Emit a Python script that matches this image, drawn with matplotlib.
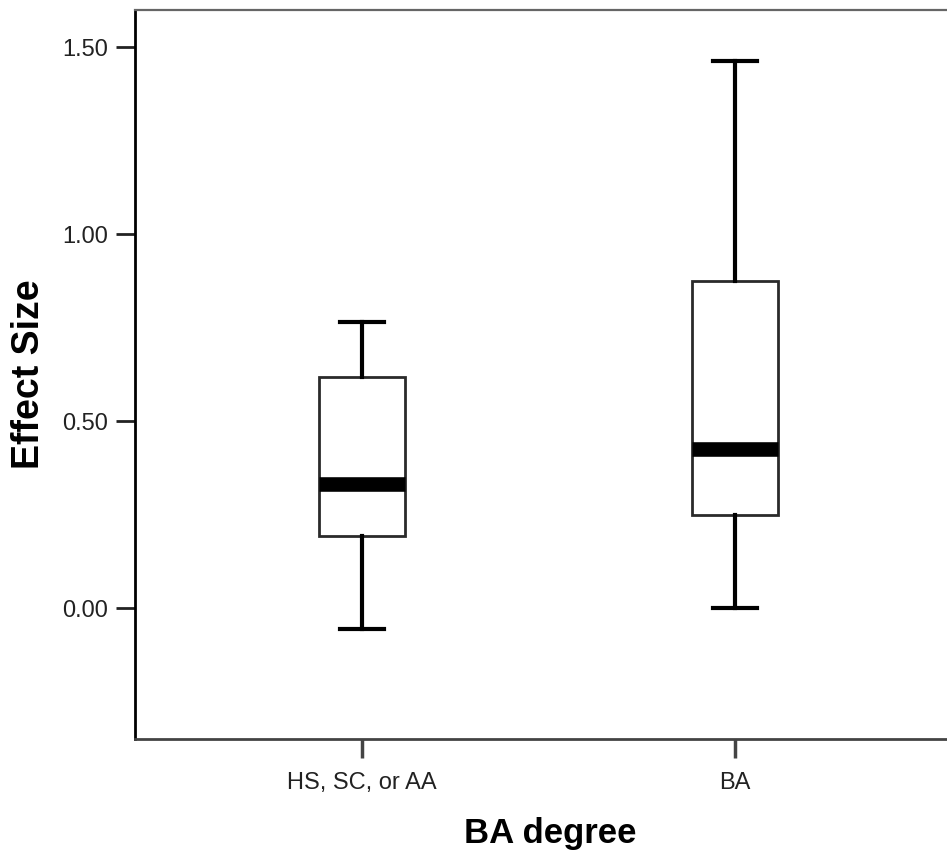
import matplotlib
matplotlib.use("Agg")
import matplotlib.pyplot as plt

plt.rcParams['font.family'] = ['Liberation Sans', 'DejaVu Sans']

categories = ["HS, SC, or AA", "BA"]
whisker_low = [-0.055, 0.0]
q1 = [0.193, 0.249]
median = [0.332, 0.425]
q3 = [0.618, 0.874]
whisker_high = [0.765, 1.463]
yticks = [0.0, 0.5, 1.0, 1.5]
ytick_labels = ["0.00", "0.50", "1.00", "1.50"]

fig = plt.figure(figsize=(9.47, 8.56), dpi=100)
W, H = 947, 856
left_px, top_px, bottom_px = 135, 10, 739
axw_px = 827
ax = fig.add_axes([left_px / W, 1 - bottom_px / H, axw_px / W, (bottom_px - top_px) / H])

stats = []
for i, c in enumerate(categories):
    stats.append(dict(label=c, whislo=whisker_low[i], q1=q1[i], med=median[i],
                      q3=q3[i], whishi=whisker_high[i], fliers=[]))

ax.bxp(stats, positions=[0, 1], widths=0.23, showfliers=False,
       patch_artist=True, capwidths=0.118,
       boxprops=dict(facecolor='white', edgecolor='#2a2a2a', linewidth=2.0),
       whiskerprops=dict(color='black', linewidth=3.0),
       capprops=dict(color='black', linewidth=3.0),
       medianprops=dict(color='black', linewidth=10.5, solid_capstyle='butt'))

ax.set_xlim(-0.6086, 1.6086)
ax.set_ylim(-0.350, 1.599)
ax.set_yticks(yticks)
ax.set_yticklabels(ytick_labels)
ax.set_xticks([0, 1])
ax.set_xticklabels(categories)

ax.tick_params(axis='y', length=13.5, width=2, color='#222222', labelsize=17, pad=6, direction='out')
ax.tick_params(axis='x', length=13.5, width=2.5, color='#444444', labelsize=17, pad=10, direction='out')
for t in ax.get_xticklabels() + ax.get_yticklabels():
    t.set_color('#222222')

ax.spines['left'].set_color('black')
ax.spines['left'].set_linewidth(2)
for s in ['bottom', 'right']:
    ax.spines[s].set_color('#444444')
    ax.spines[s].set_linewidth(2)
ax.spines['top'].set_color('#666666')
ax.spines['top'].set_linewidth(1.6)

ax.set_ylabel("Effect Size", fontsize=27, fontweight='bold', labelpad=14)
ax.set_xlabel("BA degree", fontsize=25, fontweight='bold', labelpad=12)
ax.xaxis.set_label_coords((550 - left_px) / axw_px, -(833 - bottom_px) / (bottom_px - top_px))
ax.xaxis.label.set_va('center')
ax.yaxis.set_label_coords(-(left_px - 29) / axw_px, (bottom_px - 374) / (bottom_px - top_px))
ax.yaxis.label.set_va('center')

fig.savefig("out.png", dpi=100)
